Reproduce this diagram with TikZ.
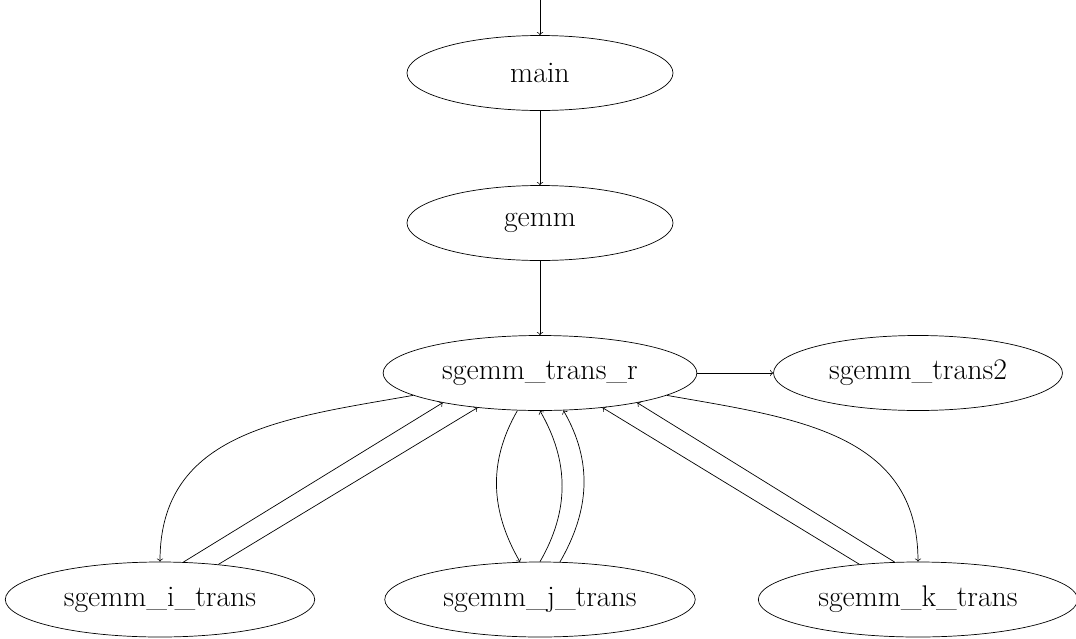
\documentclass[tikz,border=0pt]{standalone}
\usetikzlibrary{shapes,arrows}
\tikzstyle{fn} = [ellipse, minimum width=5.32cm, minimum height=1.5cm, inner xsep=7.5pt, inner ysep=0pt, text centered, draw=black, font=\fontsize{17}{20}\selectfont]

\begin{document}
\begin{tikzpicture}[node distance=3cm]
		\useasboundingbox (0,0) rectangle (21.52,-12.78);
		\node[fn](main) at (10.8,-1.46){main};
		\node[fn,below of=main](gemm){gemm};
		\node[fn,below of=gemm](r){sgemm\_trans\_r};
		\node[fn,right of=r,xshift=4.56cm](t2){sgemm\_trans2};
		\node[fn,below of=r,yshift=-1.53cm](j){sgemm\_j\_trans};
		\node[fn,left of=j,xshift=-4.6cm](i){sgemm\_i\_trans};
		\node[fn,right of=j,xshift=4.56cm](k){sgemm\_k\_trans};
		\coordinate (top) at (10.8,0);
		
		\draw[->] (top)--(main);
		\draw[->] (main)--(gemm);
		\draw[->] (gemm)--(r);
		\draw[->] (r)--(t2);
		
		\draw[->] (r.190) to[out=190,in=90,looseness=1.1] (i.north);
		\draw[->] (i.58)--(r.197);
		\draw[->] (i.31)--(r.209);
		
		\draw[->] (r.239) to[out=240,in=120] (j.118);
		\draw[->] (j.north) to[out=60,in=300] (r.south);
		\draw[->] (j.62) to[out=60,in=300] (r.302);
		
		\draw[->] (r.350) to[out=-10,in=90,looseness=1.1] (k.north);
		\draw[->] (k.122)--(r.343);
		\draw[->] (k.149)--(r.331);
		\end{tikzpicture}
\end{document}
